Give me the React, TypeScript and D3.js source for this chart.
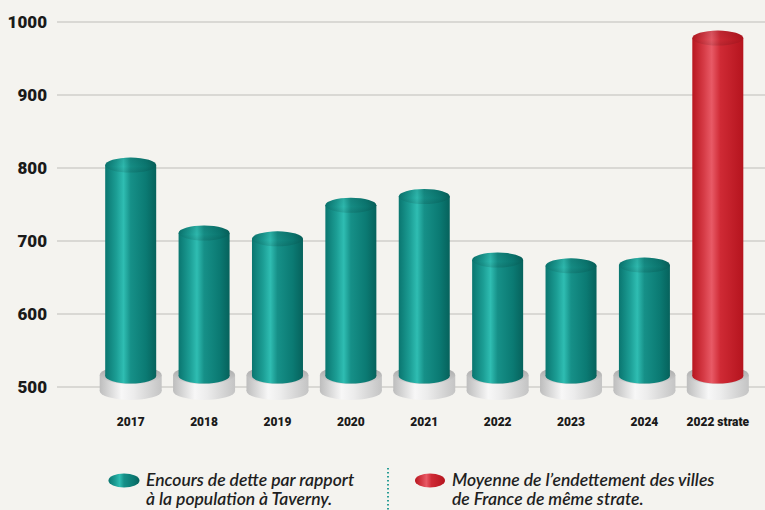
import React from "react";
import * as d3 from "d3";

const categories = ["2017", "2018", "2019", "2020", "2021", "2022", "2023", "2024", "2022 strate"];
const values = [804, 711, 703, 749, 761, 674, 666, 667, 978];
const highlight = [false, false, false, false, false, false, false, false, true];
const yTicks = [500, 600, 700, 800, 900, 1000];
const legendTeal = ["Encours de dette par rapport", "à la population à Taverny."];
const legendRed = ["Moyenne de l’endettement des villes", "de France de même strate."];

const W = 765;
const H = 510;

export default function App() {
  const x = d3.scaleBand<string>().domain(categories).range([94, 754.5]).padding(0);
  const y = d3.scaleLinear().domain([500, 1000]).range([387, 22]);
  const barW = 51;
  const rx = barW / 2;
  const ry = 7.5;
  const baseY = y(500) - 11;
  const baseRx = 31;
  const baseRy = 9;
  const baseTop = y(500) - 12;
  const baseBottom = y(500) + 4;

  return (
    <svg width={W} height={H} style={{ position: "absolute", left: 0, top: 0 }}>
      <defs>
        <linearGradient id="teal" x1="0" x2="1" y1="0" y2="0">
          <stop offset="0%" stopColor="#0a7670" />
          <stop offset="22%" stopColor="#1c9e95" />
          <stop offset="36%" stopColor="#2fbdb2" />
          <stop offset="50%" stopColor="#169088" />
          <stop offset="80%" stopColor="#0b7a73" />
          <stop offset="100%" stopColor="#06625c" />
        </linearGradient>
        <linearGradient id="red" x1="0" x2="1" y1="0" y2="0">
          <stop offset="0%" stopColor="#b8161f" />
          <stop offset="22%" stopColor="#d53a45" />
          <stop offset="38%" stopColor="#e85a66" />
          <stop offset="55%" stopColor="#cf2a35" />
          <stop offset="100%" stopColor="#b5141e" />
        </linearGradient>
        <linearGradient id="capShade" x1="0" x2="0" y1="0" y2="1">
          <stop offset="0%" stopColor="#000" stopOpacity="0.1" />
          <stop offset="60%" stopColor="#000" stopOpacity="0.03" />
          <stop offset="100%" stopColor="#000" stopOpacity="0.12" />
        </linearGradient>
        <linearGradient id="baseSide" x1="0" x2="1" y1="0" y2="0">
          <stop offset="0%" stopColor="#bdbdbd" />
          <stop offset="35%" stopColor="#f7f7f7" />
          <stop offset="55%" stopColor="#ececec" />
          <stop offset="100%" stopColor="#c4c4c4" />
        </linearGradient>
        <linearGradient id="baseTop" x1="0" x2="0" y1="0" y2="1">
          <stop offset="0%" stopColor="#a4a4a4" />
          <stop offset="100%" stopColor="#d2d2d2" />
        </linearGradient>
      </defs>
      <rect x={0} y={0} width={W} height={H} fill="#f4f3ef" />

      {yTicks.map((t) => (
        <g key={t}>
          <line x1={57} x2={W} y1={y(t)} y2={y(t)} stroke="#d0cfcb" strokeWidth={1.5} />
          <text
            x={47}
            y={y(t)}
            dy="0.36em"
            textAnchor="end"
            fontFamily="Roboto, 'DejaVu Sans Condensed', sans-serif"
            fontWeight={900}
            fontSize={17}
            fill="#1a1a1a"
          >
            {t}
          </text>
        </g>
      ))}

      {categories.map((c, i) => {
        const cx = (x(c) as number) + x.bandwidth() / 2;
        const top = y(values[i]);
        const fill = highlight[i] ? "url(#red)" : "url(#teal)";
        return (
          <g key={c}>
            <rect x={cx - baseRx} y={baseTop} width={baseRx * 2} height={baseBottom - baseTop} fill="url(#baseSide)" />
            <ellipse cx={cx} cy={baseBottom} rx={baseRx} ry={baseRy} fill="url(#baseSide)" />
            <ellipse cx={cx} cy={baseTop} rx={baseRx} ry={baseRy} fill="url(#baseTop)" />
            <rect x={cx - rx} y={top} width={barW} height={baseY - top} fill={fill} />
            <ellipse cx={cx} cy={baseY} rx={rx} ry={ry} fill={fill} />
            <ellipse cx={cx} cy={top} rx={rx} ry={ry} fill={fill} />
            <ellipse cx={cx} cy={top} rx={rx} ry={ry} fill="url(#capShade)" />
            <text
              x={cx}
              y={426}
              textAnchor="middle"
              fontFamily="Roboto, 'DejaVu Sans Condensed', sans-serif"
              fontWeight={900}
              fontSize={12}
              fill="#1a1a1a"
            >
              {c}
            </text>
          </g>
        );
      })}

      <ellipse cx={124} cy={480.5} rx={15.5} ry={7} fill="url(#teal)" />
      <ellipse cx={430} cy={480.5} rx={15} ry={7} fill="url(#red)" />
      {legendTeal.map((l, i) => (
        <text
          key={l}
          x={146}
          y={486 + i * 19}
          fontFamily="Lato, 'Open Sans', sans-serif"
          fontStyle="italic"
          fontWeight={600}
          fontSize={17.5}
          fill="#1f1f1f"
        >
          {l}
        </text>
      ))}
      {legendRed.map((l, i) => (
        <text
          key={l}
          x={452}
          y={486 + i * 19}
          fontFamily="Lato, 'Open Sans', sans-serif"
          fontStyle="italic"
          fontWeight={600}
          fontSize={17.5}
          fill="#1f1f1f"
        >
          {l}
        </text>
      ))}
      <line x1={388} x2={388} y1={468} y2={510} stroke="#2a9d96" strokeWidth={2} strokeDasharray="1.5 2.5" />
    </svg>
  );
}
